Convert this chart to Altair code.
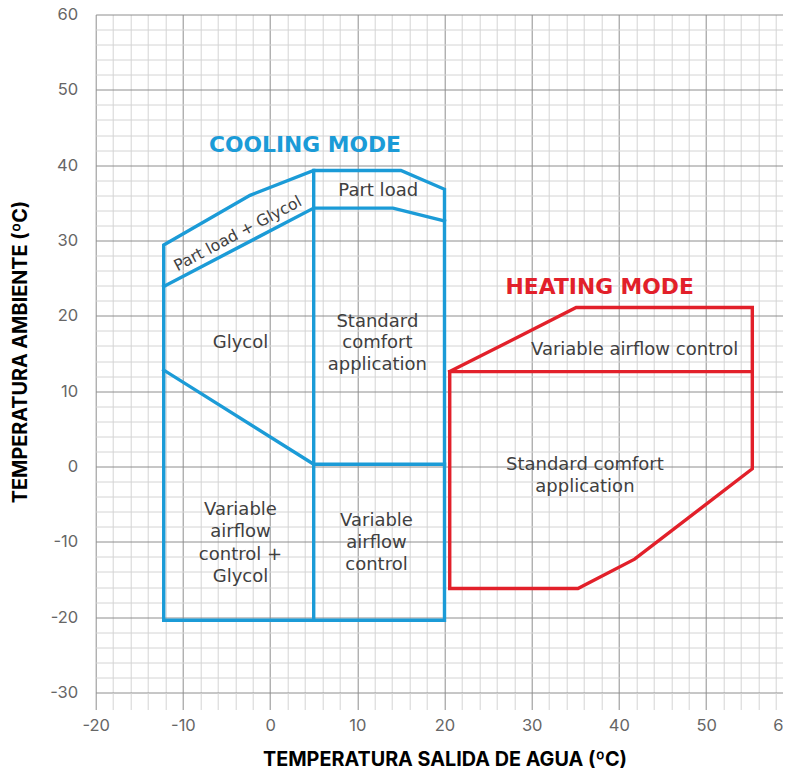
import altair as alt
import pandas as pd

# ---- data -------------------------------------------------------------
# cooling envelope polylines (x = leaving water temp, y = ambient temp)
cool_outline_x = [-12.2, -12.2, -2.3, 5.0, 15.0, 20.0, 20.0, -12.2]
cool_outline_y = [-20.4, 29.4, 36.0, 39.3, 39.3, 36.8, -20.4, -20.4]
cool_mid_x = [5.0, 5.0]
cool_mid_y = [39.3, -20.4]
cool_partload_x = [-12.2, 5.0, 14.1, 20.0]
cool_partload_y = [23.9, 34.3, 34.3, 32.6]
cool_glycol_x = [-12.2, 5.0, 20.0]
cool_glycol_y = [12.8, 0.3, 0.3]

# heating envelope polylines
heat_outline_x = [20.6, 35.1, 55.3, 55.3, 41.8, 35.3, 20.6, 20.6, 55.3]
heat_outline_y = [12.6, 21.1, 21.1, -0.3, -12.3, -16.2, -16.2, 12.6, 12.6]

# region labels
label_text = ["Part load + Glycol", "Part load", "Glycol",
              "Standard", "comfort", "application",
              "Variable", "airflow", "control +", "Glycol",
              "Variable", "airflow", "control",
              "Variable airflow control",
              "Standard comfort", "application"]
label_x = [-3.7, 12.4, -3.4,
           12.3, 12.3, 12.3,
           -3.4, -3.4, -3.4, -3.4,
           12.2, 12.2, 12.2,
           41.8,
           36.1, 36.1]
label_y = [30.9, 36.6, 16.4,
           19.2, 16.4, 13.5,
           -5.8, -8.7, -11.7, -14.7,
           -7.2, -10.2, -13.1,
           15.5,
           0.2, -2.7]
label_size = [15.8, 18, 18, 18, 18, 18, 18, 18, 18, 18, 18, 18, 18, 18, 18, 18]
label_angle = [332, 0, 0, 0, 0, 0, 0, 0, 0, 0, 0, 0, 0, 0, 0, 0]

mode_text = ["COOLING MODE", "HEATING MODE"]
mode_x = [4.0, 37.8]
mode_y = [42.7, 23.8]
mode_color = ["#1b9bd7", "#e2202a"]

x_ticks = list(range(-20, 61, 2))
y_ticks = list(range(-30, 61, 2))


def lines(pieces, group):
    rows = []
    for k, (xs, ys) in enumerate(pieces):
        for i, (a, b) in enumerate(zip(xs, ys)):
            rows.append({"x": a, "y": b, "seg": f"{group}{k}", "i": i})
    return pd.DataFrame(rows)


cool_df = lines([(cool_outline_x, cool_outline_y), (cool_mid_x, cool_mid_y),
                 (cool_partload_x, cool_partload_y), (cool_glycol_x, cool_glycol_y)], "c")
heat_df = lines([(heat_outline_x, heat_outline_y)], "h")
lab_df = pd.DataFrame({"t": label_text, "x": label_x, "y": label_y,
                       "a": label_angle, "s": label_size})
mode_df = pd.DataFrame({"t": mode_text, "x": mode_x, "y": mode_y, "c": mode_color})

major = "datum.value % 10 === 0"
grid_color = {"condition": {"test": major, "value": "#8e8e8e"}, "value": "#d4d4d4"}
label_expr = f"{major} ? '' + datum.value : ''"
x_label_align = {"condition": {"test": "datum.value === 60", "value": "right"},
                 "value": "center"}

xscale = alt.Scale(domain=[-20, 60], nice=False, zero=False)
yscale = alt.Scale(domain=[-30, 60], nice=False, zero=False)

xaxis = alt.Axis(values=x_ticks, tickCount=100, grid=True, gridColor=grid_color,
                 gridWidth=1, ticks=True, tickSize=17, tickColor=grid_color,
                 domain=False, labelExpr=label_expr, labelFlush=False,
                 labelAlign=x_label_align,
                 labelOverlap=False, labelFont="Inter",
                 labelFontSize=16.5, labelColor="#666666", labelPadding=8,
                 title="TEMPERATURA SALIDA DE AGUA (ºC)", titleFont="Inter",
                 titleFontWeight="bold", titleFontSize=19.8, titleColor="#000000",
                 titleBaseline="alphabetic", titleY=73)
yaxis = alt.Axis(values=y_ticks, tickCount=100, grid=True, gridColor=grid_color,
                 gridWidth=1, ticks=False, domain=False,
                 labelExpr=label_expr, labelFlush=False, labelOverlap=False,
                 labelFont="Inter",
                 labelFontSize=16.5, labelColor="#666666", labelPadding=18,
                 title="TEMPERATURA AMBIENTE (ºC)", titleFont="Inter",
                 titleFontWeight="bold", titleFontSize=19.8, titleColor="#000000",
                 titleBaseline="alphabetic", titleX=-69, titleY=337)

base_x = alt.X("x:Q", scale=xscale, axis=xaxis)
base_y = alt.Y("y:Q", scale=yscale, axis=yaxis)

cool = alt.Chart(cool_df).mark_line(color="#1b9bd7", strokeWidth=3.4,
                                    strokeJoin="miter", strokeCap="square").encode(
    x=base_x, y=base_y, detail="seg:N", order="i:Q")
heat = alt.Chart(heat_df).mark_line(color="#e2202a", strokeWidth=3.4,
                                    strokeJoin="miter", strokeCap="square").encode(
    x="x:Q", y="y:Q", detail="seg:N", order="i:Q")
labels = alt.Chart(lab_df).mark_text(font="DejaVu Sans",
                                     color="#404040", baseline="middle",
                                     align="center").encode(
    x="x:Q", y="y:Q", text="t:N", angle=alt.Angle("a:Q", scale=None),
    size=alt.Size("s:Q", scale=None))
modes = alt.Chart(mode_df).mark_text(font="DejaVu Sans", fontSize=21.8,
                                     fontWeight="bold", baseline="middle",
                                     align="center").encode(
    x="x:Q", y="y:Q", text="t:N", color=alt.Color("c:N", scale=None))

chart = alt.layer(cool, heat, labels, modes).properties(
    width=697.6, height=678,
    autosize=alt.AutoSizeParams(type="none"),
    padding={"left": 87.7, "top": 6.5, "right": -10.3, "bottom": 78},
).configure_view(stroke=None)

chart.save("out.html", embed_options={"renderer": "svg", "actions": False})
